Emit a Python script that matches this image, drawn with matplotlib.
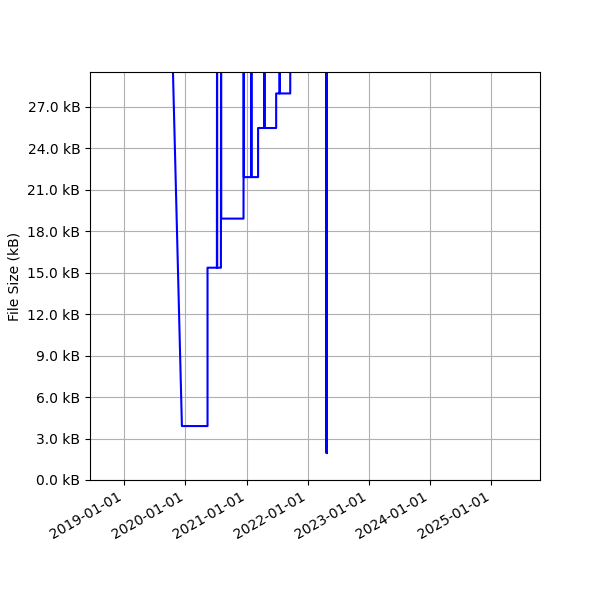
import matplotlib
matplotlib.use("Agg")
import matplotlib.pyplot as plt
import matplotlib.dates as mdates
import matplotlib.ticker as ticker
import numpy as np

# file size history (kB); values above the visible range are spikes
dates = [
    "2019-10-05", "2019-12-11", "2020-05-12", "2020-05-12",
    "2020-07-07", "2020-07-08", "2020-07-09", "2020-07-31",
    "2020-08-01", "2020-08-02", "2020-12-13", "2020-12-14",
    "2020-12-15", "2021-01-28", "2021-01-29", "2021-01-30",
    "2021-03-10", "2021-03-10", "2021-04-16", "2021-04-17",
    "2021-04-18", "2021-06-26", "2021-06-26", "2021-07-16",
    "2021-07-17", "2021-07-18", "2021-09-18", "2021-09-19",
    "2022-04-22", "2022-04-23", "2022-04-24", "2022-04-25",
]
sizes_kb = [
    36.0, 3.9, 3.9, 15.35,
    15.35, 36.0, 15.35, 15.35,
    36.0, 18.9, 18.9, 36.0,
    21.9, 21.9, 36.0, 21.9,
    21.9, 25.45, 25.45, 36.0,
    25.45, 25.45, 27.95, 27.95,
    36.0, 27.95, 27.95, 36.0,
    36.0, 1.95, 36.0, 1.95,
]

x = np.array(dates, dtype="datetime64[D]")

fig, ax = plt.subplots(figsize=(6, 6), dpi=100)
ax.plot(x, sizes_kb, color="blue", linewidth=1.5)
ax.set_ylabel("File Size (kB)")
ax.set_ylim(0, 29.5)
ax.set_xlim(np.datetime64("2018-06-10"), np.datetime64("2025-10-19"))
ax.yaxis.set_major_locator(ticker.MultipleLocator(3))
ax.yaxis.set_major_formatter(ticker.FuncFormatter(lambda v, p: f"{v:.1f} kB"))
ax.xaxis.set_major_locator(mdates.YearLocator())
ax.xaxis.set_major_formatter(mdates.DateFormatter("%Y-%m-%d"))
ax.grid(True, color="#b0b0b0")
fig.autofmt_xdate()
fig.subplots_adjust(left=0.15, right=0.9, top=0.88, bottom=0.2)
fig.savefig("out.png")
